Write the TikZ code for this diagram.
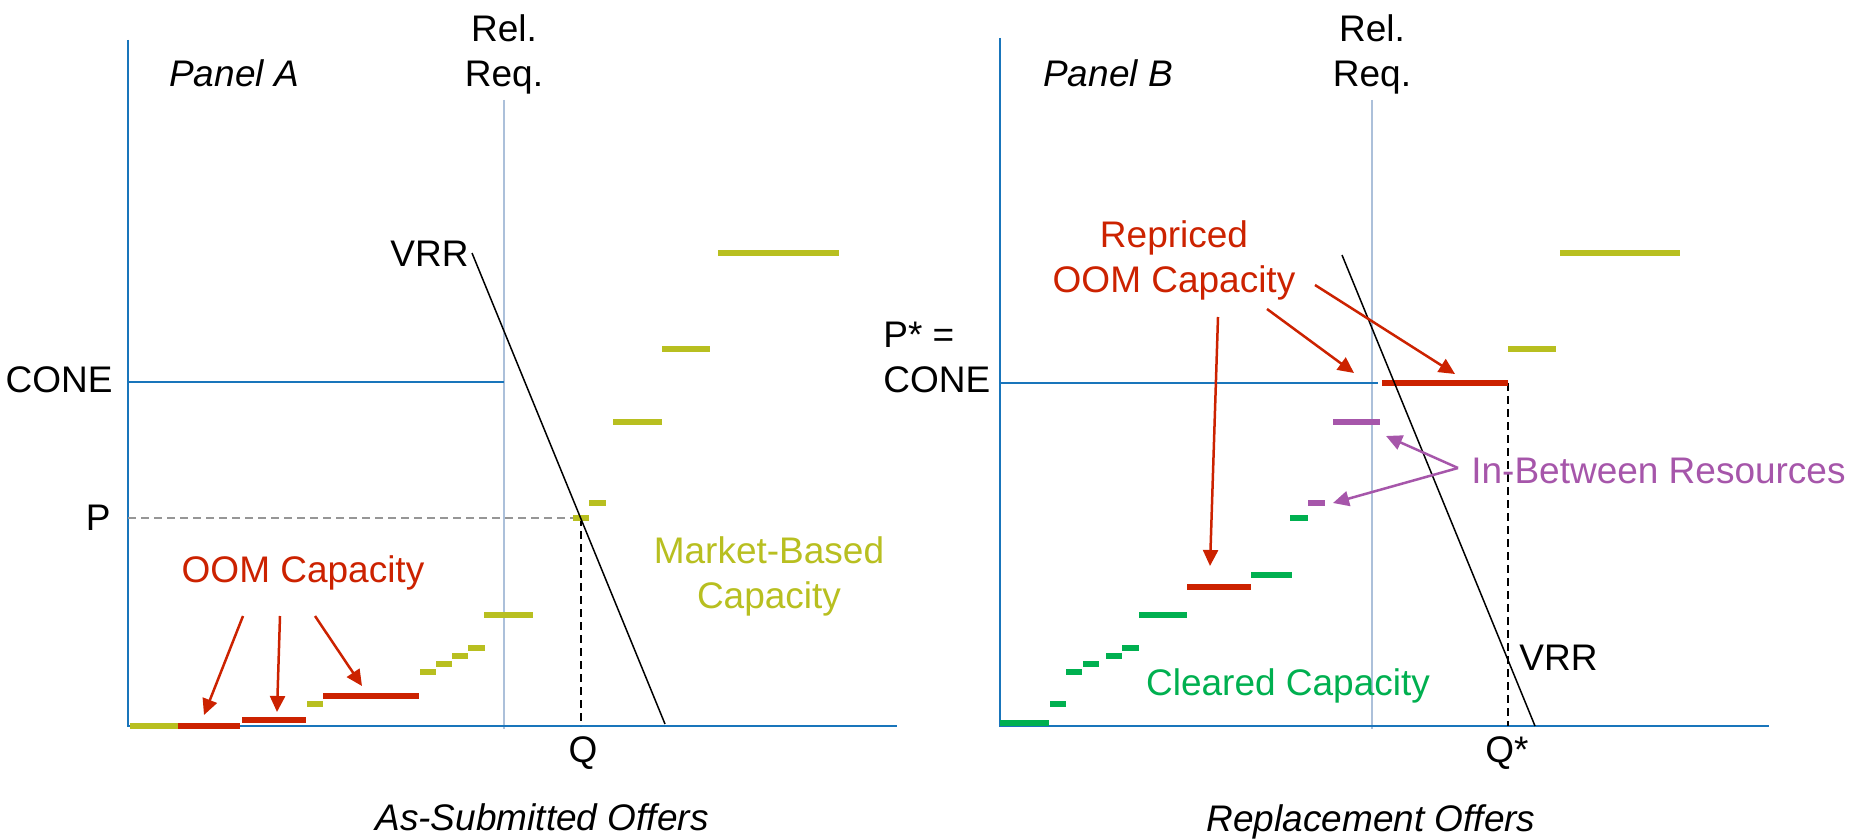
\documentclass[tikz,border=0pt]{standalone}
\usepackage{fontspec}
\setmainfont{Liberation Sans}
\usetikzlibrary{arrows.meta}
\definecolor{axisblue}{RGB}{25,117,187}
\definecolor{relblue}{RGB}{172,192,218}
\definecolor{limecol}{RGB}{184,191,32}
\definecolor{oomred}{RGB}{204,34,0}
\definecolor{clgreen}{RGB}{0,176,80}
\definecolor{ibpurple}{RGB}{166,86,170}
\definecolor{pgray}{RGB}{150,150,150}
\begin{document}
\begin{tikzpicture}[x=0.5pt,y=-0.5pt,
  lbl/.style={inner sep=0pt, font=\fontsize{18.5}{22.5}\selectfont},
  axisline/.style={draw=axisblue, line width=1pt},
  relline/.style={draw=relblue, line width=1pt},
  vrrline/.style={draw=black, line width=0.75pt},
  pdash/.style={draw=pgray, line width=1pt, dash pattern=on 4pt off 2.5pt},
  qdash/.style={draw=black, line width=1pt, dash pattern=on 4pt off 2.5pt},
  bar/.style={line width=2.6pt},
  redarrow/.style={draw=oomred, line width=1.25pt, -{Triangle[length=8pt,width=7.5pt]}},
  purarrow/.style={draw=ibpurple, line width=1.25pt, -{Triangle[length=8pt,width=7.5pt]}}
]
\fill[white] (0,0) rectangle (1862,839);
\useasboundingbox (0,0) rectangle (1862,839);

% ---------------- Panel A ----------------
\draw[relline] (504,100) -- (504,729);
\draw[axisline] (128,40) -- (128,726) -- (897,726);
\draw[axisline] (128,382) -- (504,382);
\draw[pdash] (128,518) -- (581,518);
\draw[qdash] (581,518) -- (581,726);

\foreach \a/\b/\y in {130/178/726, 307/323/704, 420/436/672, 436/452/664, 452/468/656, 468/485/648,
                      484/533/615, 573/589/518, 589/606/503, 613/662/422, 662/710/349, 718/839/253}
  \draw[bar, limecol] (\a,\y) -- (\b,\y);
\foreach \a/\b/\y in {178/240/726, 242/306/720, 323/419/696}
  \draw[bar, oomred] (\a,\y) -- (\b,\y);

\coordinate (vrrAtop) at (472,253);
\coordinate (vrrAbot) at (665,724);
\draw[vrrline] (vrrAtop) -- (vrrAbot);

\node[lbl, anchor=base] (panelA) at (234,87) {\itshape Panel A};
\node[lbl, anchor=north, align=center] (relA) at (504,14) {Rel.\\Req.};
\node[lbl, anchor=base east] (vrrA) at (469,267) {VRR};
\node[lbl, anchor=base east] (coneA) at (113,393) {CONE};
\node[lbl, anchor=base east] (pA) at (111,530) {P};
\node[lbl, anchor=base, text=oomred] (oomA) at (303,582) {OOM Capacity};
\node[lbl, anchor=north, align=center, text=limecol] (mbA) at (769,536) {Market-Based\\Capacity};
\node[lbl, anchor=base] (qA) at (583,762) {Q};
\node[lbl, anchor=base] (titleA) at (542,830) {\itshape As-Submitted Offers};

\coordinate (oa1s) at (243,616); \coordinate (oa1t) at (204,715);
\coordinate (oa2s) at (280,616); \coordinate (oa2t) at (277,712);
\coordinate (oa3s) at (315,616); \coordinate (oa3t) at (362,686);
\draw[redarrow] (oa1s) -- (oa1t);
\draw[redarrow] (oa2s) -- (oa2t);
\draw[redarrow] (oa3s) -- (oa3t);

% ---------------- Panel B ----------------
\draw[relline] (1372,100) -- (1372,729);
\draw[axisline] (1000,38) -- (1000,726) -- (1769,726);
\draw[axisline] (1000,383) -- (1378,383);
\draw[qdash] (1508,383) -- (1508,726);

\foreach \a/\b/\y in {1000/1049/723, 1050/1066/704, 1066/1082/672, 1083/1099/664, 1106/1122/656,
                      1122/1139/648, 1139/1187/615, 1251/1292/575, 1290/1308/518}
  \draw[bar, clgreen] (\a,\y) -- (\b,\y);
\foreach \a/\b/\y in {1187/1251/587, 1382/1508/383}
  \draw[bar, oomred] (\a,\y) -- (\b,\y);
\foreach \a/\b/\y in {1308/1325/503, 1333/1380/422}
  \draw[bar, ibpurple] (\a,\y) -- (\b,\y);
\foreach \a/\b/\y in {1508/1556/349, 1560/1680/253}
  \draw[bar, limecol] (\a,\y) -- (\b,\y);

\coordinate (vrrBtop) at (1342,255);
\coordinate (vrrBbot) at (1535,726);
\draw[vrrline] (vrrBtop) -- (vrrBbot);

\node[lbl, anchor=base] (panelB) at (1108,87) {\itshape Panel B};
\node[lbl, anchor=north, align=center] (relB) at (1372,14) {Rel.\\Req.};
\node[lbl, anchor=north west, align=left] (coneB) at (883,322) {P* =\\CONE};
\node[lbl, anchor=north, align=center, text=oomred] (repB) at (1174,220) {Repriced\\OOM Capacity};
\node[lbl, anchor=base, text=clgreen] (clB) at (1288,695) {Cleared Capacity};
\node[lbl, anchor=base east, text=ibpurple] (ibB) at (1846,483) {In-Between Resources};
\node[lbl, anchor=base west] (vrrB) at (1519,670) {VRR};
\node[lbl, anchor=base] (qB) at (1507,762) {Q*};
\node[lbl, anchor=base] (titleB) at (1371,831) {\itshape Replacement Offers};

\coordinate (rb1s) at (1218,317); \coordinate (rb1t) at (1210,566);
\coordinate (rb2s) at (1267,309); \coordinate (rb2t) at (1354,373);
\coordinate (rb3s) at (1315,285); \coordinate (rb3t) at (1455,374);
\draw[redarrow] (rb1s) -- (rb1t);
\draw[redarrow] (rb2s) -- (rb2t);
\draw[redarrow] (rb3s) -- (rb3t);

\coordinate (ibs) at (1458,468);
\coordinate (ib1t) at (1386,436);
\coordinate (ib2t) at (1333,503);
\draw[purarrow] (ibs) -- (ib1t);
\draw[purarrow] (ibs) -- (ib2t);
\end{tikzpicture}
\end{document}
